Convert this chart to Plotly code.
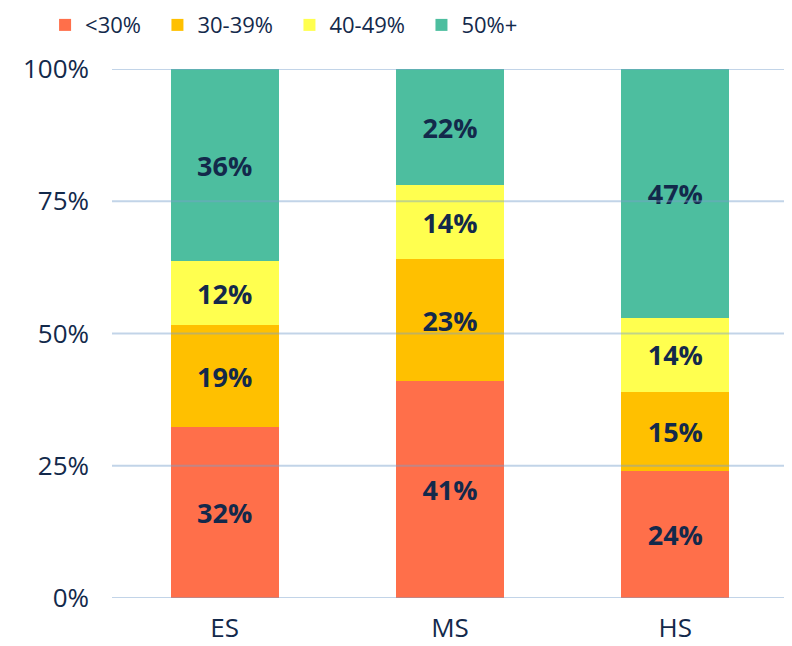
import plotly.graph_objects as go

categories = ["ES", "MS", "HS"]
series_names = ["<30%", "30-39%", "40-49%", "50%+"]
lt30 = [32, 41, 24]
s30_39 = [19, 23, 15]
s40_49 = [12, 14, 14]
s50plus = [36, 22, 47]
tick_vals = [0, 25, 50, 75, 100]
tick_text = ["0%", "25%", "50%", "75%", "100%"]

colors = ["#FF6F4A", "#FFC000", "#FFFF4F", "#4DBE9F"]
navy = "#13294B"
font_family = "Open Sans, Lato, sans-serif"
pad = "\u00a0" * 2

fig = go.Figure()
for name, vals, col in zip(series_names, [lt30, s30_39, s40_49, s50plus], colors):
    fig.add_trace(go.Bar(
        name=name + pad, x=categories, y=vals,
        marker=dict(color=col, line=dict(width=0)),
        text=[f"{v}%" for v in vals],
        texttemplate="%{text}",
        textposition="inside", insidetextanchor="middle",
        textangle=0,
        textfont=dict(family=font_family, size=27, color=navy, weight="bold"),
    ))

# gridlines drawn above the bars, as in the reference
for tv in tick_vals:
    fig.add_shape(type="line", xref="paper", yref="y", x0=0, x1=1, y0=tv, y1=tv,
                  line=dict(color="rgba(120,160,205,0.45)", width=2), layer="above")

fig.update_layout(
    barmode="stack", barnorm="percent", bargap=0.52,
    width=792, height=646,
    margin=dict(l=104, r=12, t=61, b=56, autoexpand=False),
    paper_bgcolor="white", plot_bgcolor="white",
    font=dict(family=font_family, color=navy, size=24),
    uniformtext=dict(minsize=10, mode="show"),
    legend=dict(orientation="h", x=-0.099, xanchor="left", xref="paper",
                y=1.083, yanchor="middle", yref="paper",
                font=dict(size=22, color=navy, family=font_family),
                traceorder="normal"),
    showlegend=True,
)
fig.update_yaxes(range=[0, 100], tickvals=tick_vals, ticktext=tick_text,
                 showgrid=False, zeroline=False, ticks="", ticklabelstandoff=22,
                 tickfont=dict(size=26, color=navy))
fig.update_xaxes(showgrid=False, showline=False, ticks="",
                 tickfont=dict(size=26, color=navy), ticklabelstandoff=12)

fig.write_html("out.html")
